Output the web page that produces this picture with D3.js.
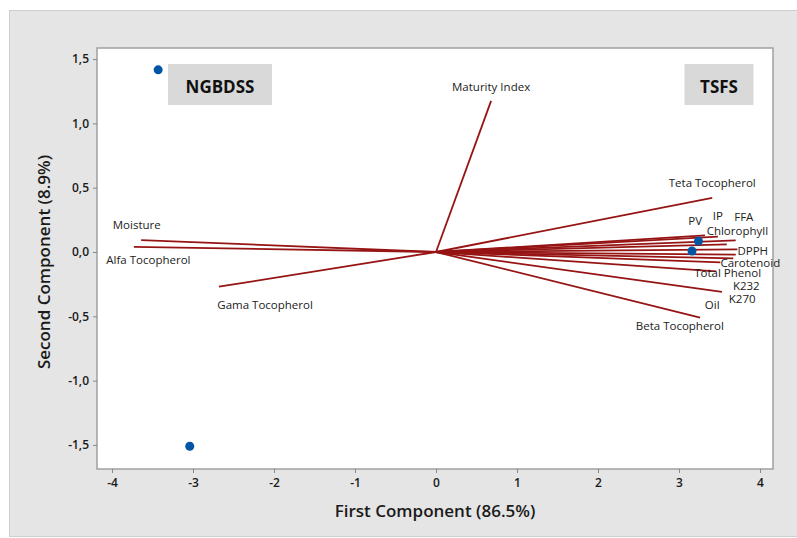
<!DOCTYPE html>
<html>
<head>
<meta charset="utf-8">
<title>PCA Biplot</title>
<script src="https://d3js.org/d3.v7.min.js"></script>
<style>
    body {
        margin: 0;
        background: #ffffff;
    }
    svg text {
        font-family: "Open Sans", "Noto Sans", sans-serif;
    }
</style>
</head>
<body>
<script>
    // scores (observations)
    const groups = ["NGBDSS", "NGBDSS", "TSFS", "TSFS"];
    const scoreX = [-3.43, -3.04, 3.24, 3.16];
    const scoreY = [1.416, -1.51, 0.085, 0.008];

    // loadings (vectors)
    const variables = ["Maturity Index", "Teta Tocopherol", "PV", "IP", "FFA", "Chlorophyll", "DPPH",
        "Carotenoid", "Total Phenol", "K232", "K270", "Oil", "Beta Tocopherol",
        "Moisture", "Alfa Tocopherol", "Gama Tocopherol"];
    const loadX = [0.68, 3.41, 3.32, 3.48, 3.70, 3.59, 3.72, 3.70, 3.46, 3.67, 3.53, 3.51, 3.26, -3.64, -3.73, -2.68];
    const loadY = [1.175, 0.42, 0.13, 0.12, 0.09, 0.06, 0.02, -0.02, -0.15, -0.05, -0.31, -0.08, -0.51, 0.093, 0.04, -0.27];

    // where the variable labels sit (data units), as placed in the original
    const labelX = [0.68, 3.41, 3.20, 3.48, 3.80, 3.72, 3.91, 3.88, 3.60, 3.83, 3.78, 3.41, 3.01, -3.99, -4.07, -2.11];
    const labelY = [1.29, 0.537, 0.245, 0.285, 0.275, 0.165, 0.012, -0.08, -0.162, -0.26, -0.36, -0.412, -0.568, 0.21, -0.062, -0.405];
    const labelAnchor = ["middle", "middle", "middle", "middle", "middle", "middle", "middle", "middle",
        "middle", "middle", "middle", "middle", "middle", "start", "start", "middle"];

    const xTicks = [-4, -3, -2, -1, 0, 1, 2, 3, 4];
    const yTicks = [-1.5, -1.0, -0.5, 0.0, 0.5, 1.0, 1.5];
    const groupLabels = ["NGBDSS", "TSFS"];
    const xTitle = "First Component (86.5%)";
    const yTitle = "Second Component (8.9%)";

    const width = 797;
    const height = 538;
    const plot = {left: 97, top: 48, right: 773, bottom: 469};

    const svg = d3.select("body")
        .append("svg")
        .attr("width", width)
        .attr("height", height);

    // gray outer panel
    svg.append("rect")
        .attr("x", 9.5)
        .attr("y", 10.5)
        .attr("width", width)
        .attr("height", height - 12)
        .attr("fill", "#e5e5e5")
        .attr("stroke", "#cfcfcf");

    const x = d3.scaleLinear().domain([-4.185, 4.16]).range([plot.left, plot.right]);
    const y = d3.scaleLinear().domain([-1.687, 1.586]).range([plot.bottom, plot.top]);

    svg.append("rect")
        .attr("x", plot.left)
        .attr("y", plot.top)
        .attr("width", plot.right - plot.left)
        .attr("height", plot.bottom - plot.top)
        .attr("fill", "#ffffff")
        .attr("stroke", "#a0a0a0")
        .attr("stroke-width", 1.5);

    const fmt = function(d) { return d3.format(".1f")(d).replace(".", ",").replace("−", "-"); };

    const xAxis = svg.append("g")
        .attr("transform", "translate(0," + plot.bottom + ")")
        .call(d3.axisBottom(x).tickValues(xTicks).tickSize(4).tickPadding(5)
            .tickFormat(function(d) { return String(d); }));

    const yAxis = svg.append("g")
        .attr("transform", "translate(" + plot.left + ",0)")
        .call(d3.axisLeft(y).tickValues(yTicks).tickSize(4).tickPadding(4).tickFormat(fmt));

    [xAxis, yAxis].forEach(function(ax) {
        ax.select(".domain").remove();
        ax.selectAll(".tick line").attr("stroke", "#888");
        ax.selectAll(".tick text")
            .attr("fill", "#1a1a1a")
            .style("font-size", "12px")
            .style("font-weight", "600")
            .style("font-family", "'Open Sans', sans-serif");
    });

    // axis titles
    svg.append("text")
        .attr("x", 435)
        .attr("y", 517)
        .attr("text-anchor", "middle")
        .attr("fill", "#1a1a1a")
        .style("font-size", "17px")
        .style("font-weight", "600")
        .text(xTitle);

    svg.append("text")
        .attr("transform", "translate(50,262) rotate(-90)")
        .attr("text-anchor", "middle")
        .attr("fill", "#1a1a1a")
        .style("font-size", "17px")
        .style("font-weight", "600")
        .text(yTitle);

    // group label boxes
    const boxCenters = [[220, 86], [719, 86]];
    const boxWidths = [104, 69];
    groupLabels.forEach(function(g, i) {
        svg.append("rect")
            .attr("x", boxCenters[i][0] - boxWidths[i] / 2)
            .attr("y", 64)
            .attr("width", boxWidths[i])
            .attr("height", 41)
            .attr("fill", "#d9d9d9");
        svg.append("text")
            .attr("x", boxCenters[i][0])
            .attr("y", boxCenters[i][1])
            .attr("text-anchor", "middle")
            .attr("dominant-baseline", "central")
            .attr("fill", "#111")
            .style("font-size", "17px")
            .style("font-weight", "700")
            .text(g);
    });

    // loading vectors
    svg.append("g")
        .selectAll("line")
        .data(variables)
        .join("line")
        .attr("x1", x(0))
        .attr("y1", y(0))
        .attr("x2", function(d, i) { return x(loadX[i]); })
        .attr("y2", function(d, i) { return y(loadY[i]); })
        .attr("stroke", "#961414")
        .attr("stroke-width", 1.8);

    // scores
    svg.append("g")
        .selectAll("circle")
        .data(groups)
        .join("circle")
        .attr("cx", function(d, i) { return x(scoreX[i]); })
        .attr("cy", function(d, i) { return y(scoreY[i]); })
        .attr("r", 4.5)
        .attr("fill", "#0055a5");

    // variable labels
    svg.append("g")
        .selectAll("text")
        .data(variables)
        .join("text")
        .attr("x", function(d, i) { return x(labelX[i]); })
        .attr("y", function(d, i) { return y(labelY[i]); })
        .attr("text-anchor", function(d, i) { return labelAnchor[i]; })
        .attr("dominant-baseline", "central")
        .attr("fill", "#222")
        .style("font-size", "11.5px")
        .text(function(d) { return d; });
</script>
</body>
</html>
